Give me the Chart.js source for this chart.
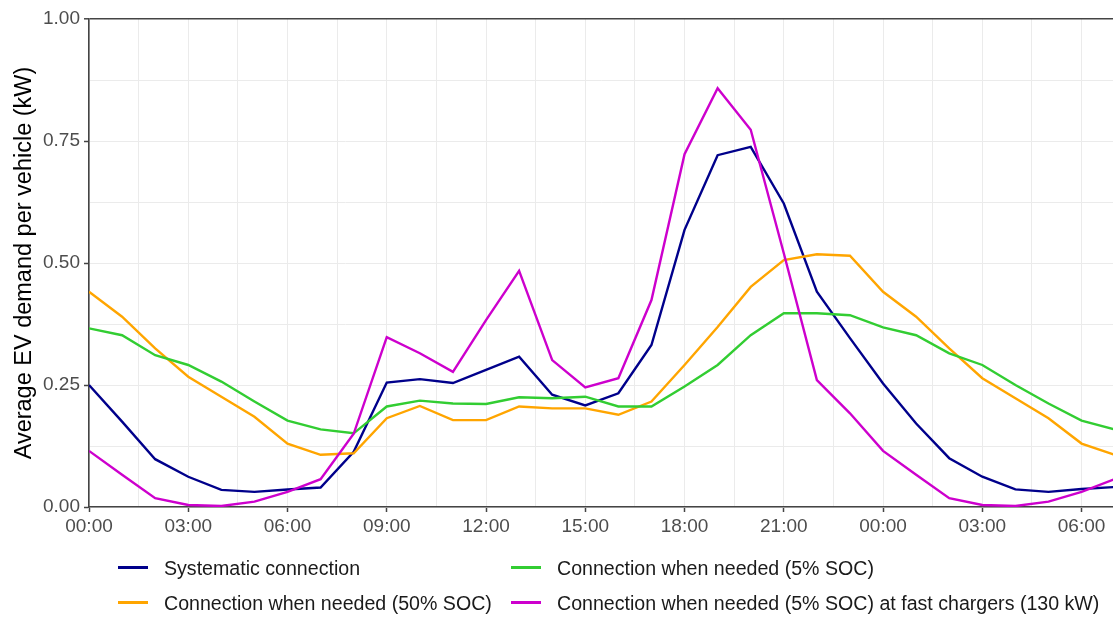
<!DOCTYPE html>
<html>
<head>
<meta charset="utf-8">
<script src="https://cdn.jsdelivr.net/npm/chart.js@4"></script>
<style>
  body { margin: 0; background: #fff; }
  #wrap { position: relative; width: 1113px; height: 617px; overflow: hidden; }
  #legend { position: absolute; left: 0; top: 0; width: 1113px; height: 617px; pointer-events: none;
            font-family: "Liberation Sans", Arial, sans-serif; font-size: 19.6px; color: #1a1a1a; }
  .item { position: absolute; height: 24px; line-height: 24px; white-space: nowrap; }
  .sw { position: absolute; width: 30px; height: 3px; top: 10px; left: 0; }
  .tx { position: absolute; left: 46px; top: 0; }
</style>
</head>
<body>
<div id="wrap">
  <canvas id="myChart" width="1113" height="540"></canvas>
  <div id="legend"></div>
</div>
<script>
// hours since midnight (day 1 -> next morning)
const hours = [0, 1, 2, 3, 4, 5, 6, 7, 8, 9, 10, 11, 12, 13, 14, 15, 16, 17, 18, 19, 20, 21, 22, 23, 24, 25, 26, 27, 28, 29, 30, 31];

// average EV demand per vehicle (kW)
const systematic = [0.250, 0.175, 0.098, 0.062, 0.035, 0.031, 0.036, 0.040, 0.113, 0.255, 0.262, 0.254, 0.281, 0.308, 0.230, 0.208,
                    0.233, 0.332, 0.568, 0.721, 0.738, 0.622, 0.441, 0.346, 0.253, 0.171, 0.100, 0.062, 0.036, 0.031, 0.037, 0.041];
const needed50 = [0.441, 0.390, 0.325, 0.267, 0.226, 0.185, 0.130, 0.107, 0.110, 0.182, 0.207, 0.178, 0.178, 0.206, 0.202, 0.202,
                  0.189, 0.216, 0.291, 0.369, 0.451, 0.506, 0.518, 0.515, 0.441, 0.390, 0.325, 0.264, 0.223, 0.182, 0.130, 0.107];
const needed5 = [0.366, 0.352, 0.311, 0.291, 0.257, 0.216, 0.177, 0.159, 0.151, 0.206, 0.218, 0.212, 0.211, 0.225, 0.223, 0.226,
                 0.206, 0.206, 0.247, 0.291, 0.352, 0.397, 0.397, 0.393, 0.368, 0.352, 0.315, 0.291, 0.250, 0.212, 0.177, 0.159];
const fastChargers = [0.115, 0.066, 0.018, 0.004, 0.002, 0.011, 0.031, 0.057, 0.150, 0.348, 0.315, 0.277, 0.383, 0.484, 0.301, 0.245,
                      0.264, 0.424, 0.723, 0.858, 0.773, 0.520, 0.260, 0.192, 0.115, 0.066, 0.018, 0.004, 0.002, 0.011, 0.031, 0.057];

const seriesLabels = ["Systematic connection", "Connection when needed (50% SOC)",
                      "Connection when needed (5% SOC)", "Connection when needed (5% SOC) at fast chargers (130 kW)"];
const seriesColors = ["#00008B", "#FFA500", "#32CD32", "#CD00CD"];

const xTickLabels = ["00:00", "03:00", "06:00", "09:00", "12:00", "15:00", "18:00", "21:00", "00:00", "03:00", "06:00"];
const yTickLabels = ["0.00", "0.25", "0.50", "0.75", "1.00"];

const tickFont = { family: "'Liberation Sans', Arial, sans-serif", size: 19 };
const axisColor = "#444444";

function toPoints(values) {
    return hours.map((h, i) => ({ x: h, y: values[i] }));
}

function isMajorY(v) {
    return Math.abs(v * 4 - Math.round(v * 4)) < 1e-6;
}

const allSeries = [systematic, needed50, needed5, fastChargers];
const datasets = allSeries.map((vals, i) => ({
    label: seriesLabels[i],
    data: toPoints(vals),
    borderColor: seriesColors[i],
    borderWidth: 2.4,
    pointRadius: 0,
    fill: false,
    tension: 0,
    order: allSeries.length - i   // later series drawn on top
}));

new Chart("myChart", {
    type: "line",
    data: { datasets: datasets },
    options: {
        responsive: false,
        devicePixelRatio: 1,
        animation: false,
        layout: { padding: { top: 19, right: 0, left: 0, bottom: 0 } },
        scales: {
            x: {
                type: "linear",
                min: 0,
                max: 30.95,
                afterBuildTicks: scale => {
                    const t = [];
                    for (let v = 0; v <= 30; v += 1.5) t.push({ value: v });
                    scale.ticks = t;
                },
                afterFit: scale => { scale.height = 33; },
                ticks: {
                    autoSkip: false,
                    maxRotation: 0,
                    padding: 3,
                    color: "#4d4d4d",
                    font: tickFont,
                    callback: v => (v % 3 === 0 ? xTickLabels[v / 3] : "")
                },
                grid: {
                    color: "#ebebeb",
                    lineWidth: 1,
                    tickLength: 5,
                    tickWidth: 1.5,
                    tickColor: ctx => (ctx.tick && ctx.tick.value % 3 === 0 ? axisColor : "rgba(0,0,0,0)")
                },
                border: { color: axisColor, width: 1.6 }
            },
            y: {
                min: 0,
                max: 1,
                afterBuildTicks: scale => {
                    const t = [];
                    for (let v = 0; v <= 1.0001; v += 0.125) t.push({ value: Math.round(v * 1000) / 1000 });
                    scale.ticks = t;
                },
                afterFit: scale => { scale.width = 89; },
                ticks: {
                    autoSkip: false,
                    padding: 4,
                    color: "#4d4d4d",
                    font: tickFont,
                    callback: v => (isMajorY(v) ? yTickLabels[Math.round(v * 4)] : "")
                },
                grid: {
                    color: ctx => (ctx.tick && ctx.tick.value === 1 ? axisColor : "#ebebeb"),
                    lineWidth: ctx => (ctx.tick && ctx.tick.value === 1 ? 1.6 : 1),
                    tickLength: 5,
                    tickWidth: 1.5,
                    tickColor: ctx => (ctx.tick && isMajorY(ctx.tick.value) ? axisColor : "rgba(0,0,0,0)")
                },
                border: { color: axisColor, width: 1.6 },
                title: {
                    display: true,
                    text: "Average EV demand per vehicle (kW)",
                    color: "#000000",
                    font: { family: "'Liberation Sans', Arial, sans-serif", size: 23.5 },
                    padding: { top: 10, bottom: 0 }
                }
            }
        },
        plugins: {
            legend: { display: false },
            tooltip: { enabled: false }
        }
    }
});

// legend below the plot, 2 columns filled column-wise
const legendPos = [
    { left: 118, top: 556 },
    { left: 118, top: 591 },
    { left: 511, top: 556 },
    { left: 511, top: 591 }
];
const legend = document.getElementById("legend");
seriesLabels.forEach((lab, i) => {
    const item = document.createElement("div");
    item.className = "item";
    item.style.left = legendPos[i].left + "px";
    item.style.top = legendPos[i].top + "px";
    item.innerHTML = '<div class="sw" style="background:' + seriesColors[i] + '"></div><span class="tx"></span>';
    item.querySelector(".tx").textContent = lab;
    legend.appendChild(item);
});
</script>
</body>
</html>
